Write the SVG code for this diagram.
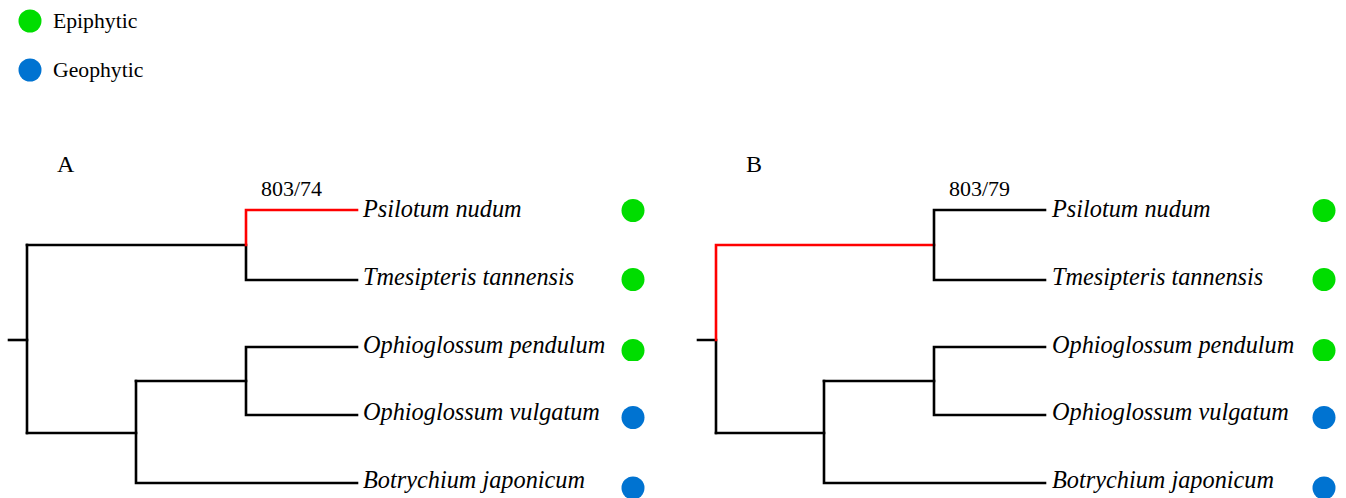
<svg xmlns="http://www.w3.org/2000/svg" width="1346" height="498" viewBox="0 0 1346 498">
  <style>
    .br { fill: none; stroke: #000; stroke-width: 2.6; stroke-linecap: square; }
    .hl { fill: none; stroke: #ff0000; stroke-width: 2.6; stroke-linecap: square; }
    .tax { font-family: "Liberation Serif", "Times New Roman", serif; font-style: italic; font-size: 24.3px; fill: #000; }
    .lbl { font-family: "Liberation Serif", "Times New Roman", serif; font-size: 22px; fill: #000; }
    .pan { font-family: "Liberation Serif", "Times New Roman", serif; font-size: 24px; fill: #000; }
    .leg { font-family: "Liberation Serif", "Times New Roman", serif; font-size: 21.7px; fill: #000; }
    .epi { fill: #00dd00; }
    .geo { fill: #0073d1; }
  </style>
  <defs>
    <clipPath id="clipA"><rect x="600" y="330" width="60" height="31"/></clipPath>
    <clipPath id="clipB"><rect x="1290" y="330" width="60" height="31"/></clipPath>
  </defs>
  <rect width="1346" height="498" fill="#fff"/>

  <!-- legend -->
  <g id="legend">
    <circle class="epi" cx="30" cy="21" r="11.5"/>
    <text class="leg" x="53" y="28">Epiphytic</text>
    <circle class="geo" cx="30" cy="70" r="11.5"/>
    <text class="leg" x="53" y="77">Geophytic</text>
  </g>

  <g id="connectors">
    <g id="edges-A">
      <path class="br" d="M9 340 H27"/>
      <path class="br" d="M27 245 V433"/>
      <path class="br" d="M27 245 H246 V280 H357"/>
      <path class="hl" d="M246 245 V210 H357"/>
      <path class="br" d="M27 433 H136"/>
      <path class="br" d="M136 381 V483 H357"/>
      <path class="br" d="M136 381 H246"/>
      <path class="br" d="M357 347 H246 V415 H357"/>
    </g>
    <g id="edges-B">
      <path class="br" d="M698 340 H716 V433"/>
      <path class="hl" d="M716 340 V245 H934"/>
      <path class="br" d="M1045 210 H934 V280 H1045"/>
      <path class="br" d="M716 433 H824"/>
      <path class="br" d="M824 381 V483 H1045"/>
      <path class="br" d="M824 381 H934"/>
      <path class="br" d="M1045 347 H934 V415 H1045"/>
    </g>
  </g>

  <g id="panel-A">
    <text class="pan" x="57" y="172">A</text>
    <text class="lbl" x="261" y="196">803/74</text>
  </g>
  <g id="taxa-A">
    <text class="tax" x="363" y="217">Psilotum nudum</text>
    <text class="tax" x="363" y="285">Tmesipteris tannensis</text>
    <text class="tax" x="363" y="353">Ophioglossum pendulum</text>
    <text class="tax" x="363" y="420">Ophioglossum vulgatum</text>
    <text class="tax" x="363" y="488">Botrychium japonicum</text>
  </g>
  <g id="states-A">
    <circle class="epi" cx="633" cy="210.5" r="11.5"/>
    <circle class="epi" cx="633" cy="279.5" r="11.5"/>
    <circle class="epi" cx="633" cy="350.5" r="11.5" clip-path="url(#clipA)"/>
    <circle class="geo" cx="633" cy="417.5" r="11.5"/>
    <circle class="geo" cx="633" cy="488" r="11.5"/>
  </g>

  <g id="panel-B">
    <text class="pan" x="746" y="172">B</text>
    <text class="lbl" x="949" y="196">803/79</text>
  </g>
  <g id="taxa-B">
    <text class="tax" x="1052" y="217">Psilotum nudum</text>
    <text class="tax" x="1052" y="285">Tmesipteris tannensis</text>
    <text class="tax" x="1052" y="353">Ophioglossum pendulum</text>
    <text class="tax" x="1052" y="420">Ophioglossum vulgatum</text>
    <text class="tax" x="1052" y="488">Botrychium japonicum</text>
  </g>
  <g id="states-B">
    <circle class="epi" cx="1324" cy="210.5" r="11.5"/>
    <circle class="epi" cx="1324" cy="279.5" r="11.5"/>
    <circle class="epi" cx="1324" cy="350.5" r="11.5" clip-path="url(#clipB)"/>
    <circle class="geo" cx="1324" cy="417.5" r="11.5"/>
    <circle class="geo" cx="1324" cy="488" r="11.5"/>
  </g>
</svg>
